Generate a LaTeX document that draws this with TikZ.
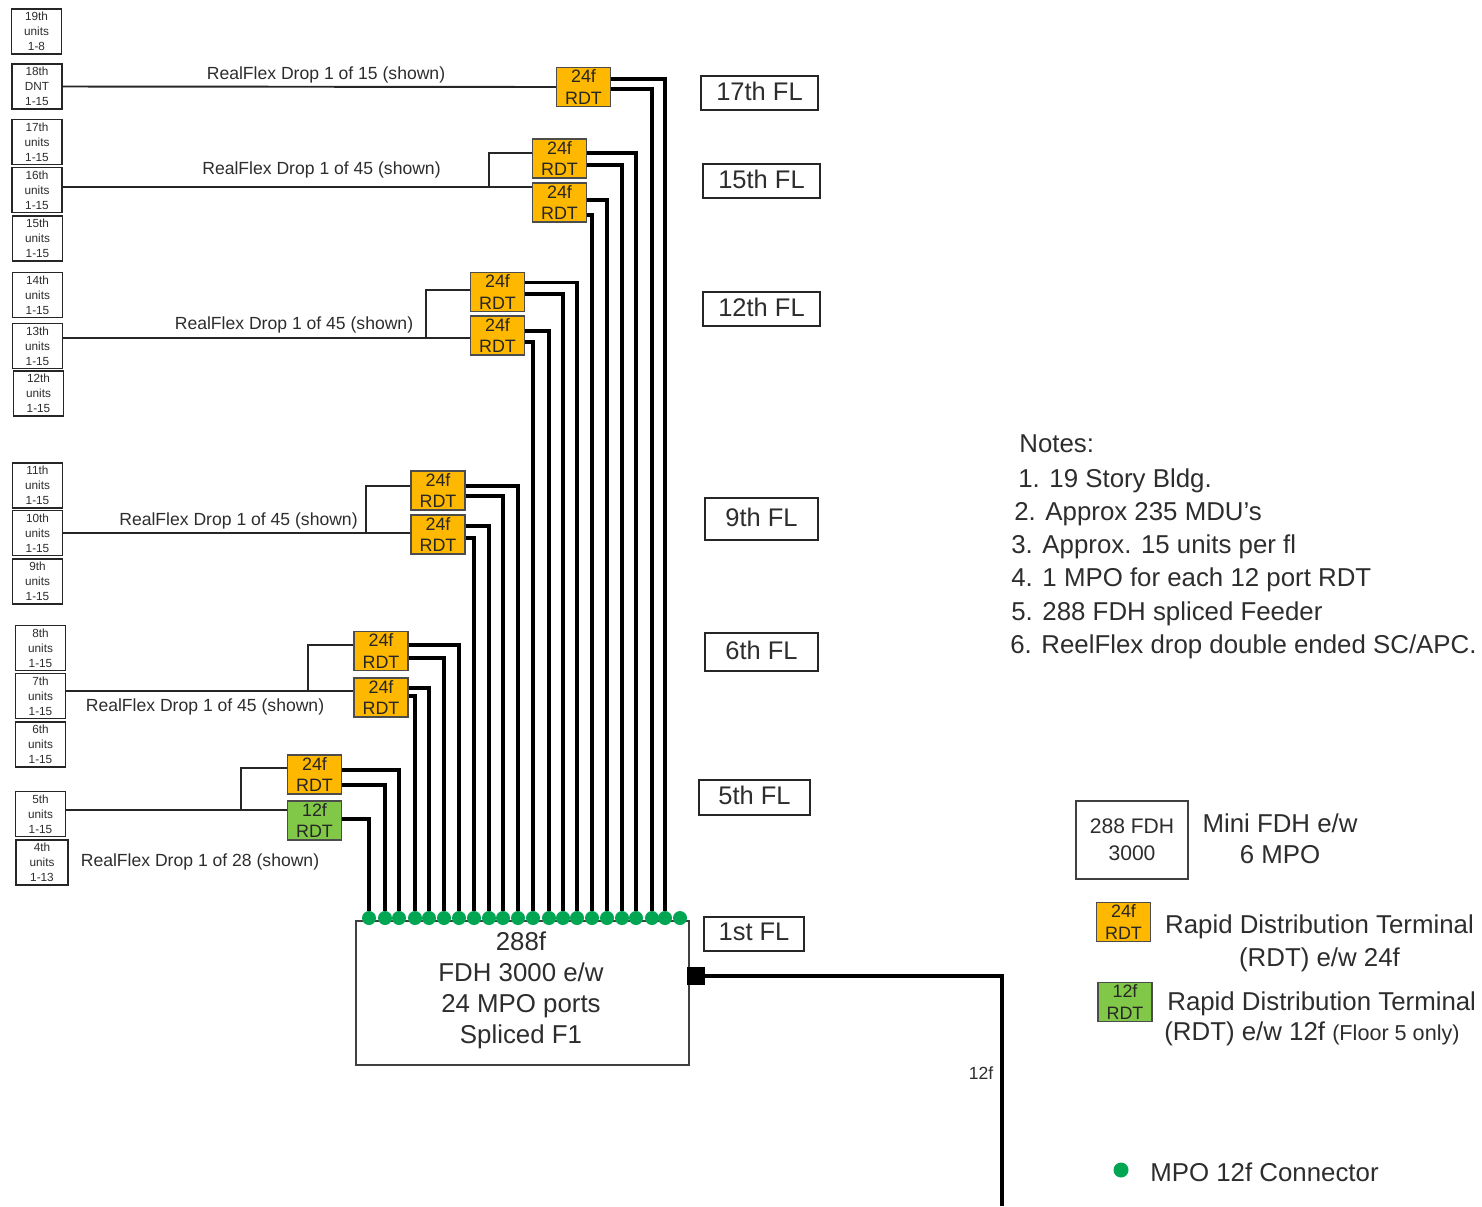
\documentclass[tikz,border=0pt]{standalone}
\usepackage{fontspec}
\setmainfont{Liberation Sans}
\definecolor{RdtOrange}{RGB}{255, 184,  0}
\definecolor{RdtGreen} {RGB}{130, 200, 72}
\definecolor{MpoGreen} {RGB}{0,   166, 81}
\definecolor{InkGray}  {RGB}{45,  45,  45}
\usetikzlibrary{
  positioning
}

\begin{document}
\begin{tikzpicture}[
  unitbox/.style={
    draw=black!85, fill=white, line width=0.8pt,
    align=center, inner sep=0pt, text=InkGray,
    minimum width=1cm, minimum height=0.9cm,
    font=\fontsize{6.7}{8.5}\selectfont
  },
  rdt/.style={
    draw=black!70, fill=RdtOrange, line width=0.8pt,
    align=center, inner sep=0pt, text=black!85,
    minimum width=1.08cm, minimum height=0.78cm,
    font=\fontsize{10.2}{12}\selectfont
  },
  rdtsmall/.style={
    rdt, fill=RdtGreen
  },
  floorbox/.style={
    draw=black!85, fill=white, line width=0.7pt,
    inner sep=0pt, text=InkGray, text depth=0.08cm,
    minimum width=2.34cm, minimum height=0.68cm,
    font=\fontsize{14.5}{17}\selectfont
  },
  mpo/.style={
    circle, fill=MpoGreen, inner sep=0pt,
    minimum size=0.28cm
  },
  drop/.style={
    line width=1.1pt, color=black!85
  },
  fibre/.style={
    line width=2.2pt, color=black
  },
  cable/.style={
    line width=2.8pt, color=black
  },
  droplabel/.style={
    text=InkGray, inner sep=0pt,
    font=\fontsize{10}{12}\selectfont
  },
  notetext/.style={
    anchor=west, text=InkGray, inner sep=0pt,
    font=\fontsize{14.7}{18}\selectfont
  }
]
\useasboundingbox (0,0) rectangle (29.64,-24.12);

% units per floor
\node[unitbox] (u19) at (0.73,-0.63) {19th\\units\\1-8};
\node[unitbox] (u18) at (0.74,-1.73) {18th\\DNT\\1-15};
\node[unitbox] (u17) at (0.74,-2.84) {17th\\units\\1-15};
\node[unitbox] (u16) at (0.74,-3.80) {16th\\units\\1-15};
\node[unitbox] (u15) at (0.75,-4.77) {15th\\units\\1-15};
\node[unitbox] (u14) at (0.75,-5.90) {14th\\units\\1-15};
\node[unitbox] (u13) at (0.75,-6.92) {13th\\units\\1-15};
\node[unitbox] (u12) at (0.77,-7.87) {12th\\units\\1-15};
\node[unitbox] (u11) at (0.75,-9.71) {11th\\units\\1-15};
\node[unitbox] (u10) at (0.75,-10.66) {10th\\units\\1-15};
\node[unitbox] (u9) at (0.75,-11.63) {9th\\units\\1-15};
\node[unitbox] (u8) at (0.81,-12.96) {8th\\units\\1-15};
\node[unitbox] (u7) at (0.81,-13.92) {7th\\units\\1-15};
\node[unitbox] (u6) at (0.81,-14.89) {6th\\units\\1-15};
\node[unitbox] (u5) at (0.81,-16.28) {5th\\units\\1-15};
\node[unitbox, minimum width=1.04cm] (u4) at (0.84,-17.25) {4th\\units\\1-13};

% terminals
\node[rdt] (r17) at (11.67,-1.74) {24f\\RDT};
\node[rdt] (r15a) at (11.19,-3.17) {24f\\RDT};
\node[rdt] (r15b) at (11.19,-4.05) {24f\\RDT};
\node[rdt] (r12a) at (9.95,-5.84) {24f\\RDT};
\node[rdt] (r12b) at (9.95,-6.71) {24f\\RDT};
\node[rdt] (r9a) at (8.76,-9.81) {24f\\RDT};
\node[rdt] (r9b) at (8.76,-10.69) {24f\\RDT};
\node[rdt] (r6a) at (7.62,-13.02) {24f\\RDT};
\node[rdt] (r6b) at (7.62,-13.95) {24f\\RDT};
\node[rdt] (r5a) at (6.29,-15.49) {24f\\RDT};
\node[rdtsmall] (r5b) at (6.29,-16.41) {12f\\RDT};

% floor labels
\node[floorbox] (f17) at (15.19,-1.86) {17th FL};
\node[floorbox] (f15) at (15.23,-3.62) {15th FL};
\node[floorbox] (f12) at (15.23,-6.18) {12th FL};
\node[floorbox, minimum width=2.26cm, minimum height=0.84cm] (f9) at (15.23,-10.38) {9th FL};
\node[floorbox, minimum width=2.26cm, minimum height=0.76cm] (f6) at (15.23,-13.04) {6th FL};
\node[floorbox, minimum width=2.22cm, minimum height=0.70cm] (f5) at (15.09,-15.95) {5th FL};
\node[floorbox, minimum width=2.00cm] (f1) at (15.08,-18.68) {1st FL};

% hub
\node[draw=black!75, fill=white, line width=0.8pt,
  minimum width=6.66cm, minimum height=2.88cm]
  (fdh) at (10.45,-19.86) {};
\node[notetext, anchor=center, align=center,
  font=\fontsize{14.7}{17.6}\selectfont]
  (fdhtext) at (10.42,-19.81)
  {288f\\FDH 3000 e/w\\24 MPO ports\\Spliced F1};
\node[fill=black, inner sep=0pt, minimum size=0.36cm]
  (port) at (13.92,-19.52) {};
\coordinate (cableend) at (20.04,-24.12);
\draw[cable] (port.east) -| (cableend);
\node[droplabel] (cablelabel) at (19.62,-21.46) {12f};

% connectors
\node[mpo] (c1) at (7.38,-18.36) {};
\node[mpo] (c2) at (7.70,-18.36) {};
\node[mpo] (c3) at (7.98,-18.36) {};
\node[mpo] (c4) at (8.30,-18.36) {};
\node[mpo] (c5) at (8.58,-18.36) {};
\node[mpo] (c6) at (8.88,-18.36) {};
\node[mpo] (c7) at (9.18,-18.36) {};
\node[mpo] (c8) at (9.48,-18.36) {};
\node[mpo] (c9) at (9.78,-18.36) {};
\node[mpo] (c10) at (10.06,-18.36) {};
\node[mpo] (c11) at (10.36,-18.36) {};
\node[mpo] (c12) at (10.66,-18.36) {};
\node[mpo] (c13) at (10.98,-18.36) {};
\node[mpo] (c14) at (11.26,-18.36) {};
\node[mpo] (c15) at (11.54,-18.36) {};
\node[mpo] (c16) at (11.84,-18.36) {};
\node[mpo] (c17) at (12.14,-18.36) {};
\node[mpo] (c18) at (12.44,-18.36) {};
\node[mpo] (c19) at (12.72,-18.36) {};
\node[mpo] (c20) at (13.04,-18.36) {};
\node[mpo] (c21) at (13.30,-18.36) {};
\node[mpo] (c22) at (13.60,-18.36) {};

% feeder fibres
\draw[fibre] ([yshift=0.03cm]r5b.east) -| (c1.north);
\draw[fibre] ([yshift=-0.21cm]r5a.east) -| (c2.north);
\draw[fibre] ([yshift=0.09cm]r5a.east) -| (c3.north);
\draw[fibre] ([yshift=0.03cm]r6b.east) -| (c4.north);
\draw[fibre] ([yshift=0.19cm]r6b.east) -| (c5.north);
\draw[fibre] ([yshift=-0.14cm]r6a.east) -| (c6.north);
\draw[fibre] ([yshift=0.12cm]r6a.east) -| (c7.north);
\draw[fibre] ([yshift=-0.07cm]r9b.east) -| (c8.north);
\draw[fibre] ([yshift=0.17cm]r9b.east) -| (c9.north);
\draw[fibre] ([yshift=-0.11cm]r9a.east) -| (c10.north);
\draw[fibre] ([yshift=0.09cm]r9a.east) -| (c11.north);
\draw[fibre] ([yshift=-0.13cm]r12b.east) -| (c12.north);
\draw[fibre] ([yshift=0.09cm]r12b.east) -| (c13.north);
\draw[fibre] ([yshift=-0.04cm]r12a.east) -| (c14.north);
\draw[fibre] ([yshift=0.19cm]r12a.east) -| (c15.north);
\draw[fibre] ([yshift=-0.25cm]r15b.east) -| (c16.north);
\draw[fibre] ([yshift=0.05cm]r15b.east) -| (c17.north);
\draw[fibre] ([yshift=-0.13cm]r15a.east) -| (c18.north);
\draw[fibre] ([yshift=0.11cm]r15a.east) -| (c19.north);
\draw[fibre] ([yshift=-0.04cm]r17.east) -| (c20.north);
\draw[fibre] ([yshift=0.16cm]r17.east) -| (c21.north);

% drops
\coordinate (j15) at (9.78,-3.74);
\coordinate (j12) at (8.52,-6.76);
\coordinate (j9) at (7.32,-10.66);
\coordinate (j6) at (6.16,-13.82);
\coordinate (j5) at (4.82,-16.20);
\draw[drop] (u18.east) -- (r17.west);
\draw[drop] (j15 -| u16.east) -- (j15 -| r15b.west);
\draw[drop] (j15) |- ([yshift=0.11cm]r15a.west);
\draw[drop] (j12 -| u13.east) -- (j12 -| r12b.west);
\draw[drop] (j12) |- ([yshift=0.04cm]r12a.west);
\draw[drop] (j9 -| u10.east) -- (j9 -| r9b.west);
\draw[drop] (j9) |- ([yshift=0.09cm]r9a.west);
\draw[drop] (j6 -| u7.east) -- (j6 -| r6b.west);
\draw[drop] (j6) |- ([yshift=0.12cm]r6a.west);
\draw[drop] (j5 -| u5.east) -- (j5 -| r5b.west);
\draw[drop] (j5) |- ([yshift=0.13cm]r5a.west);

\node[droplabel] (d17) at (6.52,-1.49) {RealFlex Drop 1 of 15 (shown)};
\node[droplabel] (d15) at (6.43,-3.40) {RealFlex Drop 1 of 45 (shown)};
\node[droplabel] (d12) at (5.88,-6.50) {RealFlex Drop 1 of 45 (shown)};
\node[droplabel] (d9) at (4.77,-10.42) {RealFlex Drop 1 of 45 (shown)};
\node[droplabel] (d6) at (4.10,-14.14) {RealFlex Drop 1 of 45 (shown)};
\node[droplabel] (d5) at (4.00,-17.24) {RealFlex Drop 1 of 28 (shown)};

% notes
\node[notetext] (n0) at (20.38,-8.88) {Notes:};
\node[notetext] (n1) at (20.36,-9.62) {1. 19 Story Bldg.};
\node[notetext] (n2) at (20.28,-10.28) {2. Approx 235 MDU’s};
\node[notetext] (n3) at (20.22,-10.94) {3. Approx. 15 units per fl};
\node[notetext] (n4) at (20.22,-11.60) {4. 1 MPO for each 12 port RDT};
\node[notetext] (n5) at (20.22,-12.28) {5. 288 FDH spliced Feeder};
\node[notetext] (n6) at (20.20,-12.94) {6. ReelFlex drop double ended SC/APC.};

% legend
\node[draw=black!75, line width=0.8pt, align=center, inner sep=0pt,
  text=InkGray, minimum width=2.24cm, minimum height=1.56cm,
  font=\fontsize{12}{15.4}\selectfont]
  (keyfdh) at (22.64,-16.80) {288 FDH\\3000};
\node[notetext, anchor=center, align=center,
  font=\fontsize{14.7}{17.6}\selectfont]
  (keyfdhtext) at (25.60,-16.78) {Mini FDH e/w\\6 MPO};
\node[rdt] (keyrdt) at (22.47,-18.44) {24f\\RDT};
\node[notetext, anchor=center, align=center,
  font=\fontsize{14.7}{18.8}\selectfont]
  (keyrdttext) at (26.39,-18.87) {Rapid Distribution Terminal\\(RDT) e/w 24f};
\node[rdtsmall] (keysmall) at (22.50,-20.04) {12f\\RDT};
\node[notetext] (keysmalla) at (23.34,-20.08) {Rapid Distribution Terminal};
\node[notetext] (keysmallb) at (23.28,-20.68)
  {(RDT) e/w 12f {\fontsize{12.3}{14}\selectfont (Floor 5 only)}};
\node[mpo, minimum size=0.3cm] (keympo) at (22.42,-23.40) {};
\node[notetext] (keympotext) at (23.00,-23.44) {MPO 12f Connector};
\end{tikzpicture}
\end{document}
